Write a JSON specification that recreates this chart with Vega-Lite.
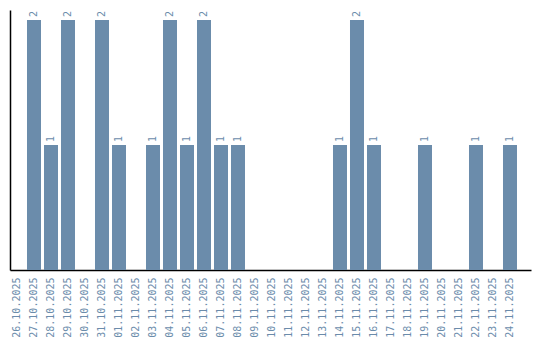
{
  "$schema": "https://vega.github.io/schema/vega-lite/v6.json",
  "autosize": "none",
  "width": 521,
  "height": 260,
  "padding": {"left": 10, "top": 10, "right": 9, "bottom": 70},
  "background": "white",
  "config": {"view": {"stroke": null}, "font": "DejaVu Sans Mono"},
  "data": {"values": [
    {"date": "26.10.2025", "count": 0},
    {"date": "27.10.2025", "count": 2},
    {"date": "28.10.2025", "count": 1},
    {"date": "29.10.2025", "count": 2},
    {"date": "30.10.2025", "count": 0},
    {"date": "31.10.2025", "count": 2},
    {"date": "01.11.2025", "count": 1},
    {"date": "02.11.2025", "count": 0},
    {"date": "03.11.2025", "count": 1},
    {"date": "04.11.2025", "count": 2},
    {"date": "05.11.2025", "count": 1},
    {"date": "06.11.2025", "count": 2},
    {"date": "07.11.2025", "count": 1},
    {"date": "08.11.2025", "count": 1},
    {"date": "09.11.2025", "count": 0},
    {"date": "10.11.2025", "count": 0},
    {"date": "11.11.2025", "count": 0},
    {"date": "12.11.2025", "count": 0},
    {"date": "13.11.2025", "count": 0},
    {"date": "14.11.2025", "count": 1},
    {"date": "15.11.2025", "count": 2},
    {"date": "16.11.2025", "count": 1},
    {"date": "17.11.2025", "count": 0},
    {"date": "18.11.2025", "count": 0},
    {"date": "19.11.2025", "count": 1},
    {"date": "20.11.2025", "count": 0},
    {"date": "21.11.2025", "count": 0},
    {"date": "22.11.2025", "count": 1},
    {"date": "23.11.2025", "count": 0},
    {"date": "24.11.2025", "count": 1}
  ]},
  "encoding": {
    "x": {
      "field": "date", "type": "nominal", "sort": null,
      "scale": {"paddingInner": 0.1765, "paddingOuter": 0.412, "align": 0},
      "axis": {
        "title": null, "labelAngle": -90, "labelAlign": "right", "labelBaseline": "middle",
        "labelColor": "#6b8cab", "labelFontSize": 10, "labelPadding": 7,
        "ticks": false, "domainColor": "#000000", "domainWidth": 1.5, "grid": false
      }
    },
    "y": {
      "field": "count", "type": "quantitative",
      "scale": {"domain": [0, 2.08], "nice": false},
      "axis": {"title": null, "labels": false, "ticks": false, "grid": false, "domainColor": "#000000", "domainWidth": 1.5}
    }
  },
  "layer": [
    {"mark": {"type": "bar", "color": "#6b8cab"}},
    {
      "transform": [{"filter": "datum.count > 0"}],
      "mark": {"type": "text", "angle": -90, "align": "left", "baseline": "middle", "dx": 3, "fontSize": 10, "color": "#6b8cab"},
      "encoding": {"text": {"field": "count", "type": "quantitative"}}
    }
  ]
}
